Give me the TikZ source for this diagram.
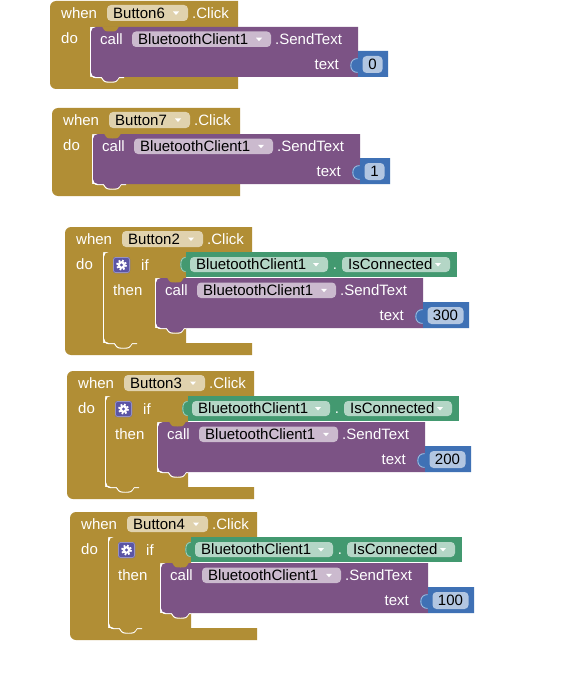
\documentclass[tikz,border=0pt]{standalone}
\usepackage{fontspec}
\setmainfont{Liberation Sans}

\definecolor{ctrl}{HTML}{B18E35}
\definecolor{meth}{HTML}{7C5385}
\definecolor{getr}{HTML}{439970}
\definecolor{mathc}{HTML}{3F71B5}
\definecolor{ctrlchip}{HTML}{E0D2AE}
\definecolor{methchip}{HTML}{CBBACE}
\definecolor{getrchip}{HTML}{B4D6C6}
\definecolor{mathchip}{HTML}{B2C6E1}
\definecolor{gearbg}{HTML}{5B55A5}

\tikzset{
  blocktext/.style={text=white, font=\fontsize{15}{18}\selectfont, inner sep=0pt,
    text height=10.7pt, text depth=0pt, anchor=west},
  fieldtext/.style={blocktext, text=black},
  hilite/.style={draw=white, line width=1.1pt},
  plugedge/.style={line width=0.8pt},
}

% dropdown field: name, x1, y1, x2, y2, fill, label
\newcommand{\dropchip}[7]{%
  \fill[#6, rounded corners=4] (#2,#3) rectangle (#4,#5);
  \node[fieldtext] (#1) at ({#2+6},{(#3+#5)/2}) {#7};
  \fill[white] ({#4-15},{(#3+#5)/2-1.5}) -- ({#4-9},{(#3+#5)/2-1.5}) -- ({#4-12},{(#3+#5)/2+2}) -- cycle;
}

% event hat with one statement slot: width, slot x, header height, slot bottom
\newcommand{\eventshell}[4]{%
  \fill[ctrl] (0,6) .. controls (0,2.7) and (2.7,0) .. (6,0) -- (#1,0) -- (#1,#3) -- (#2,#3)
    -- (#2,#4) -- (#1,#4) -- (#1,{#4+12}) -- (6,{#4+12})
    .. controls (2.7,{#4+12}) and (0,{#4+9.3}) .. (0,{#4+6}) -- cycle;
  \draw[hilite] ({#2+0.6},{#3+2}) -- ({#2+0.6},{#4-5})
    .. controls ({#2+0.6},{#4-1.6}) and ({#2+2.6},{#4+0.6}) .. ({#2+6},{#4+0.6})
    -- ({#2+11.5},{#4+0.6}) .. controls ({#2+14.5},{#4+5.1}) .. ({#2+20.5},{#4+5.1})
    .. controls ({#2+26},{#4+5.1}) .. ({#2+29},{#4+0.6}) -- ({#2+34},{#4+0.6});
}

\newcommand{\eventhead}[2]{%
  \node[blocktext] (#1-when) at (11,12) {when};
  \dropchip{#1-btn}{57}{4}{138}{20}{ctrlchip}{#2}
  \node[blocktext] (#1-click) at (142,12) {.Click};
  \node[blocktext] (#1-do) at (11,37) {do};
}

% BluetoothClient1.SendText call block: prefix, x, y, value, socket width
\newcommand{\sendtext}[5]{%
  \begin{scope}[shift={(#2,#3)}]
    \fill[meth] (0,5) .. controls (0,2.2) and (2.2,0) .. (5,0) -- (267,0) -- (267,50) -- (28,50)
      .. controls (25,54.5) .. (19.5,54.5) .. controls (14,54.5) .. (11,50) -- (5,50)
      .. controls (2.2,50) and (0,47.8) .. (0,45) -- cycle;
    \fill[ctrl] (11,-0.5) .. controls (14,4.5) .. (19.5,4.5) .. controls (25,4.5) .. (28,-0.5) -- cycle;
    \fill[mathc] (267,24) -- ({267+#5},24) -- ({267+#5},50) -- (267,50) -- (267,46)
      .. controls (262,46) and (259,43) .. (259,38.5) .. controls (259,34) and (262,31) .. (267,31) -- cycle;
    \draw[plugedge, white!55!mathc] (266.5,45.4) .. controls (262.5,45.4) and (259.8,43) .. (259.8,38.5)
      .. controls (259.8,34) and (262.5,31.6) .. (266.5,31.6);
    \node[blocktext] (#1-call) at (9,12) {call};
    \dropchip{#1-comp}{41}{4.5}{180}{20}{methchip}{BluetoothClient1}
    \node[blocktext] (#1-method) at (184,12) {.SendText};
    \node[blocktext, anchor=east] (#1-arg) at (248,37) {text};
    \fill[mathchip, rounded corners=4] (271.5,29) rectangle ({267+#5-5.5},46);
    \node[fieldtext, anchor=center] (#1-value) at ({(271.5+267+#5-5.5)/2},37.5) {#4};
  \end{scope}
}

% if / then block testing IsConnected: prefix, value, socket width
\newcommand{\condblock}[3]{%
  \fill[ctrl] (0,5) .. controls (0,2.2) and (2.2,0) .. (5,0) -- (82,0) -- (82,26) -- (51,26)
    -- (51,76) -- (82,76) -- (82,91) -- (28,91) .. controls (25,95.5) .. (19.5,95.5)
    .. controls (14,95.5) .. (11,91) -- (5,91) .. controls (2.2,91) and (0,88.8) .. (0,86) -- cycle;
  \draw[hilite] (51.6,28) -- (51.6,71) .. controls (51.6,74.4) and (53.6,76.6) .. (57,76.6)
    -- (62.5,76.6) .. controls (65.5,81.1) .. (71.5,81.1) .. controls (77,81.1) .. (80,76.6) -- (82,76.6);
  % condition
  \fill[getr] (82,0) rectangle (353,25);
  \fill[getr] (82,5) .. controls (78,5) and (76,8) .. (76,12.5) .. controls (76,17) and (78,20) .. (82,20) -- cycle;
  \draw[plugedge, white!55!getr] (81.5,5.5) .. controls (78.3,5.5) and (76.8,8) .. (76.8,12.5)
    .. controls (76.8,17) and (78.3,19.5) .. (81.5,19.5);
  \dropchip{#1-obj}{86}{5}{224}{20}{getrchip}{BluetoothClient1}
  \node[blocktext, anchor=center] (#1-dot) at (231,12.5) {.};
  \dropchip{#1-prop}{238}{5}{346}{20}{getrchip}{IsConnected}
  % mutator icon
  \fill[gearbg, rounded corners=2.5] (9,5) rectangle (26,21);
  \draw[white!35!gearbg, line width=0.8pt, rounded corners=2.5] (9.4,5.4) rectangle (25.6,20.6);
  \fill[white] (17.5,13) circle (3.8);
  \draw[white, line width=2pt, dash pattern=on 1.8pt off 1.81pt] (17.5,13) circle (4.6);
  \fill[gearbg] (17.5,13) circle (1.6);
  \node[blocktext] (#1-if) at (37,13) {if};
  \node[blocktext] (#1-then) at (9,38) {then};
  \sendtext{#1}{52}{26}{#2}{#3}
}

\newcommand{\simpleevent}[6]{% prefix, x, y, component, value, socket width
  \begin{scope}[shift={(#2,#3)}]
    \eventshell{188}{40}{26}{76}
    \sendtext{#1}{41}{26}{#5}{#6}
    \eventhead{#1}{#4}
  \end{scope}
}

\newcommand{\guardedevent}[6]{% prefix, x, y, component, value, socket width
  \begin{scope}[shift={(#2,#3)}]
    \eventshell{187}{38}{25}{116}
    \begin{scope}[shift={(39,25)}]
      \condblock{#1}{#5}{#6}
    \end{scope}
    \eventhead{#1}{#4}
  \end{scope}
}

\begin{document}
\begin{tikzpicture}[x=1pt, y=-1pt]
  \useasboundingbox (0,0) rectangle (561,674);
  \fill[white] (0,0) rectangle (561,674);

  \simpleevent{b6}{50}{1}{Button6}{0}{30}
  \simpleevent{b7}{52}{108}{Button7}{1}{30}
  \guardedevent{b2}{65}{227}{Button2}{300}{46}
  \guardedevent{b3}{67}{371}{Button3}{200}{46}
  \guardedevent{b4}{70}{512}{Button4}{100}{46}
\end{tikzpicture}
\end{document}
